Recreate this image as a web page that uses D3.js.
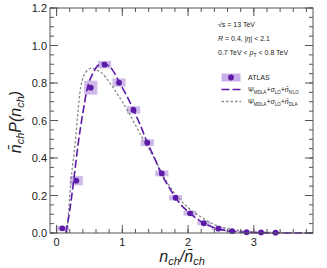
<!DOCTYPE html>
<html>
<head>
<meta charset="utf-8">
<script src="https://cdn.jsdelivr.net/npm/d3@7"></script>
<style>
  body { margin: 0; background: #fff; }
  svg { display: block; font-family: "Liberation Sans", Arial, sans-serif; }
</style>
</head>
<body>
<div id="chart"></div>
<script>
const width = 327
const height = 268

// ATLAS points (x = nch/<nch>, y = <nch> P(nch)) and half-heights of the error boxes
const dataX = [0.087, 0.30, 0.52, 0.73, 0.95, 1.17, 1.38, 1.60, 1.81, 2.03, 2.24, 2.46, 2.67, 2.89, 3.11, 3.33]
const dataY = [0.025, 0.279, 0.775, 0.898, 0.802, 0.656, 0.482, 0.318, 0.188, 0.105, 0.052, 0.023, 0.010, 0.004, 0.003, 0.002]
const dataErr = [0.012, 0.025, 0.037, 0.02, 0.022, 0.02, 0.018, 0.016, 0.014, 0.012, 0.01, 0.008, 0.005, 0.005, 0.005, 0.005]

// Psi_MDLA + sigma_LO + nbar_N'LO (dashed purple)
const nloX = [0.14, 0.2, 0.26, 0.33, 0.4, 0.47, 0.55, 0.62, 0.69, 0.75, 0.85, 0.96, 1.07, 1.17, 1.28, 1.38, 1.49, 1.59, 1.7, 1.81, 1.92, 2.03, 2.14, 2.24, 2.35, 2.45, 2.6, 2.8, 3.0, 3.3, 3.9]
const nloY = [0, 0.12, 0.28, 0.48, 0.64, 0.775, 0.85, 0.89, 0.905, 0.9, 0.87, 0.8, 0.73, 0.656, 0.57, 0.482, 0.4, 0.318, 0.25, 0.188, 0.14, 0.105, 0.075, 0.052, 0.035, 0.023, 0.012, 0.005, 0.002, 0.0005, 0]

// Psi_MDLA + sigma_LO + nbar_DLA (dotted grey)
const dlaX = [0.16, 0.22, 0.28, 0.365, 0.45, 0.54, 0.6, 0.7, 0.8, 0.9, 1.0, 1.1, 1.2, 1.3, 1.4, 1.5, 1.63, 1.8, 2.0, 2.2, 2.4, 2.6, 2.8, 3.0, 3.3, 3.9]
const dlaY = [0, 0.28, 0.47, 0.775, 0.86, 0.88, 0.87, 0.85, 0.805, 0.755, 0.7, 0.64, 0.575, 0.51, 0.45, 0.39, 0.3, 0.21, 0.135, 0.085, 0.045, 0.025, 0.012, 0.006, 0.002, 0]

const xTicks = [0, 1, 2, 3]
const yTicks = [0, 0.2, 0.4, 0.6, 0.8, 1.0, 1.2]

const purple = "#5b1aa8"
const boxFill = "#c7aee6"
const grey = "#8a8a8a"
const axisCol = "#555"

const x = d3.scaleLinear().domain([-0.1, 3.9]).range([50, 313])
const y = d3.scaleLinear().domain([0, 1.2]).range([233, 8])

const svg = d3.select("#chart").append("svg")
  .attr("width", width)
  .attr("height", height)

// error boxes
svg.append("g")
  .selectAll("rect")
  .data(dataX)
  .join("rect")
  .attr("x", (d) => x(d - 0.1))
  .attr("width", x(0.2) - x(0))
  .attr("y", (d, i) => y(dataY[i] + dataErr[i]))
  .attr("height", (d, i) => y(dataY[i] - dataErr[i]) - y(dataY[i] + dataErr[i]))
  .attr("fill", boxFill)
  .attr("opacity", 0.85)

const line = d3.line()
  .x((d) => x(d[0]))
  .y((d) => y(d[1]))
  .curve(d3.curveMonotoneX)

svg.append("path")
  .datum(dlaX.map((d, i) => [d, dlaY[i]]))
  .attr("d", line)
  .attr("fill", "none")
  .attr("stroke", grey)
  .attr("stroke-width", 1.3)
  .attr("stroke-dasharray", "2.5,2")

svg.append("path")
  .datum(nloX.map((d, i) => [d, nloY[i]]))
  .attr("d", line)
  .attr("fill", "none")
  .attr("stroke", purple)
  .attr("stroke-width", 1.6)
  .attr("stroke-dasharray", "8,3")

svg.append("g")
  .selectAll("circle")
  .data(dataX)
  .join("circle")
  .attr("cx", (d) => x(d))
  .attr("cy", (d, i) => y(dataY[i]))
  .attr("r", 2.9)
  .attr("fill", purple)

// frame with inward ticks on all sides
const xMinor = d3.range(0, 3.81, 0.2)
const yMinor = d3.range(0, 1.201, 0.05)

function tickLines(g, vals, pos, len) {
  g.selectAll(null)
    .data(vals)
    .join("line")
    .each(function (d) {
      const p = pos(d, len)
      d3.select(this).attr("x1", p[0]).attr("y1", p[1]).attr("x2", p[2]).attr("y2", p[3])
    })
}

const frame = svg.append("g").attr("stroke", axisCol).attr("stroke-width", 1)
frame.append("rect")
  .attr("x", 50).attr("y", 8)
  .attr("width", 263).attr("height", 225)
  .attr("fill", "none")

const atBottom = (d, l) => [x(d), y(0), x(d), y(0) - l]
const atTop = (d, l) => [x(d), y(1.2), x(d), y(1.2) + l]
const atLeft = (d, l) => [x(-0.1), y(d), x(-0.1) + l, y(d)]
const atRight = (d, l) => [x(3.9), y(d), x(3.9) - l, y(d)]

tickLines(frame.append("g"), xMinor, atBottom, 4)
tickLines(frame.append("g"), xTicks, atBottom, 8)
tickLines(frame.append("g"), xMinor, atTop, 4)
tickLines(frame.append("g"), xTicks, atTop, 8)
tickLines(frame.append("g"), yMinor, atLeft, 4)
tickLines(frame.append("g"), yTicks, atLeft, 8)
tickLines(frame.append("g"), yMinor, atRight, 4)
tickLines(frame.append("g"), yTicks, atRight, 8)

// tick labels
svg.append("g")
  .selectAll("text")
  .data(yTicks)
  .join("text")
  .attr("x", 47)
  .attr("y", (d) => y(d) + 4)
  .attr("text-anchor", "end")
  .attr("font-size", 11)
  .attr("fill", "#222")
  .text(d3.format(".1f"))

svg.append("g")
  .selectAll("text")
  .data(xTicks)
  .join("text")
  .attr("x", (d) => x(d))
  .attr("y", 246)
  .attr("text-anchor", "middle")
  .attr("font-size", 11)
  .attr("fill", "#222")
  .text((d) => d)

// axis titles
const xt = svg.append("text")
  .attr("x", 182)
  .attr("y", 262)
  .attr("text-anchor", "middle")
  .attr("font-size", 16)
  .attr("font-style", "italic")
  .attr("fill", "#222")
xt.append("tspan").text("n")
xt.append("tspan").attr("font-size", 11).attr("dy", 3).text("ch")
xt.append("tspan").attr("dy", -3).text("/n\u0304")
xt.append("tspan").attr("font-size", 11).attr("dy", 3).text("ch")

const yt = svg.append("text")
  .attr("transform", "translate(21,122) rotate(-90)")
  .attr("text-anchor", "middle")
  .attr("font-size", 16)
  .attr("font-style", "italic")
  .attr("fill", "#222")
yt.append("tspan").text("n\u0304")
yt.append("tspan").attr("font-size", 11).attr("dy", 3).text("ch")
yt.append("tspan").attr("dy", -3).text("P(n")
yt.append("tspan").attr("font-size", 11).attr("dy", 3).text("ch")
yt.append("tspan").attr("dy", -3).text(")")

// annotation text
const info = svg.append("g").attr("font-size", 7).attr("fill", "#222")
info.append("text").attr("x", 218).attr("y", 27).text("\u221As = 13 TeV")
const r2 = info.append("text").attr("x", 218).attr("y", 41)
r2.append("tspan").attr("font-style", "italic").text("R")
r2.append("tspan").text(" = 0.4, |")
r2.append("tspan").attr("font-style", "italic").text("\u03B7")
r2.append("tspan").text("| < 2.1")
const r3 = info.append("text").attr("x", 218).attr("y", 55)
r3.append("tspan").text("0.7 TeV <  ")
r3.append("tspan").attr("font-style", "italic").text("p")
r3.append("tspan").attr("font-size", 5).attr("dy", 2).text("T")
r3.append("tspan").attr("dy", -2).text(" < 0.8 TeV")

// legend
const lg = svg.append("g")
lg.append("rect").attr("x", 221.5).attr("y", 73.5).attr("width", 19).attr("height", 8).attr("fill", boxFill)
lg.append("circle").attr("cx", 231).attr("cy", 77.5).attr("r", 2.9).attr("fill", purple)
lg.append("text").attr("x", 248).attr("y", 80).attr("font-size", 7).attr("fill", "#222").text("ATLAS")

lg.append("line").attr("x1", 221.5).attr("x2", 241).attr("y1", 89.5).attr("y2", 89.5)
  .attr("stroke", purple).attr("stroke-width", 1.6).attr("stroke-dasharray", "8,3")
lg.append("line").attr("x1", 221.5).attr("x2", 241).attr("y1", 101.5).attr("y2", 101.5)
  .attr("stroke", grey).attr("stroke-width", 1.3).attr("stroke-dasharray", "2.5,2")

function legendLabel(yPos, last) {
  const t = lg.append("text").attr("x", 248).attr("y", yPos).attr("font-size", 7).attr("fill", "#222")
  t.append("tspan").text("\u03A8")
  t.append("tspan").attr("font-size", 4.5).attr("dy", 1.5).text("MDLA")
  t.append("tspan").attr("dy", -1.5).text("+")
  t.append("tspan").attr("font-style", "italic").text("\u03C3")
  t.append("tspan").attr("font-size", 4.5).attr("dy", 1.5).text("LO")
  t.append("tspan").attr("dy", -1.5).text("+")
  t.append("tspan").attr("font-style", "italic").text("n\u0304")
  t.append("tspan").attr("font-size", 4.5).attr("dy", 1.5).text(last)
}
legendLabel(92, "N'LO")
legendLabel(104, "DLA")
</script>
</body>
</html>
